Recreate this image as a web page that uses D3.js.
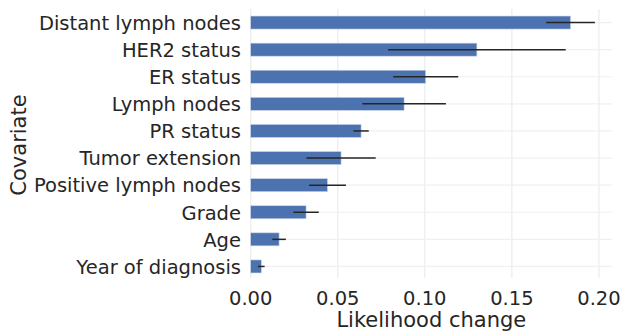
<!DOCTYPE html>
<html>
<head>
<meta charset="utf-8">
<script src="https://cdn.jsdelivr.net/npm/d3@7"></script>
<style>
  html, body { margin: 0; padding: 0; background: #fff; }
  svg { display: block; }
  text { font-family: "DejaVu Sans", sans-serif; fill: #262626; }
</style>
</head>
<body>
<svg id="chart" width="621" height="331"></svg>
<script>
const categories = ["Distant lymph nodes", "HER2 status", "ER status", "Lymph nodes", "PR status",
  "Tumor extension", "Positive lymph nodes", "Grade", "Age", "Year of diagnosis"];
const values = [0.1837, 0.1299, 0.1005, 0.0881, 0.0634, 0.0519, 0.0441, 0.0318, 0.0163, 0.0061];
const errors = [0.0140, 0.0510, 0.0187, 0.0240, 0.0044, 0.0199, 0.0106, 0.0073, 0.0039, 0.0019];
const xTicks = [0.00, 0.05, 0.10, 0.15, 0.20];
const xLabel = "Likelihood change";
const yLabel = "Covariate";

const svg = d3.select("#chart");
const mLeft = 250.7, mRight = 612, mTop = 9, mBottom = 280;

const x = d3.scaleLinear().domain([0, 0.2075]).range([mLeft, mRight]);
const y = d3.scaleBand().domain(categories).range([mTop, mBottom]).paddingInner(0.52).paddingOuter(0.26);

// grid
const g = svg.append("g");
g.selectAll("line.vg").data(xTicks).enter().append("line")
  .attr("x1", d => x(d)).attr("x2", d => x(d))
  .attr("y1", mTop).attr("y2", mBottom - 2)
  .attr("stroke", "#ebebeb").attr("stroke-width", 1.2);
g.selectAll("line.hg").data(categories).enter().append("line")
  .attr("x1", mLeft).attr("x2", mRight)
  .attr("y1", d => y(d) + y.bandwidth() / 2).attr("y2", d => y(d) + y.bandwidth() / 2)
  .attr("stroke", "#f0f0f0").attr("stroke-width", 1.2);

// bars
svg.append("g").selectAll("rect").data(categories).enter().append("rect")
  .attr("x", x(0))
  .attr("y", d => y(d))
  .attr("width", (d, i) => x(values[i]) - x(0))
  .attr("height", y.bandwidth())
  .attr("fill", "#4c72b0")
  .attr("stroke", "#c9d4e8").attr("stroke-width", 0.6);

// error bars
svg.append("g").selectAll("line").data(categories).enter().append("line")
  .attr("x1", (d, i) => x(values[i] - errors[i]))
  .attr("x2", (d, i) => x(values[i] + errors[i]))
  .attr("y1", d => y(d) + y.bandwidth() / 2)
  .attr("y2", d => y(d) + y.bandwidth() / 2)
  .attr("stroke", "#262626").attr("stroke-width", 1.5);

// y tick labels
svg.append("g").selectAll("text").data(categories).enter().append("text")
  .attr("x", 241)
  .attr("y", d => y(d) + y.bandwidth() / 2 + 7.3)
  .attr("text-anchor", "end")
  .style("font-size", "19.5px")
  .text(d => d);

// x tick labels
svg.append("g").selectAll("text").data(xTicks).enter().append("text")
  .attr("x", d => x(d))
  .attr("y", 305)
  .attr("text-anchor", "middle")
  .style("font-size", "19.5px")
  .text(d => d3.format(".2f")(d));

// axis labels
svg.append("text")
  .attr("x", (mLeft + mRight) / 2).attr("y", 327)
  .attr("text-anchor", "middle")
  .style("font-size", "21px")
  .text(xLabel);
svg.append("text")
  .attr("transform", "translate(26,145) rotate(-90)")
  .attr("text-anchor", "middle")
  .style("font-size", "21px")
  .text(yLabel);
</script>
</body>
</html>
